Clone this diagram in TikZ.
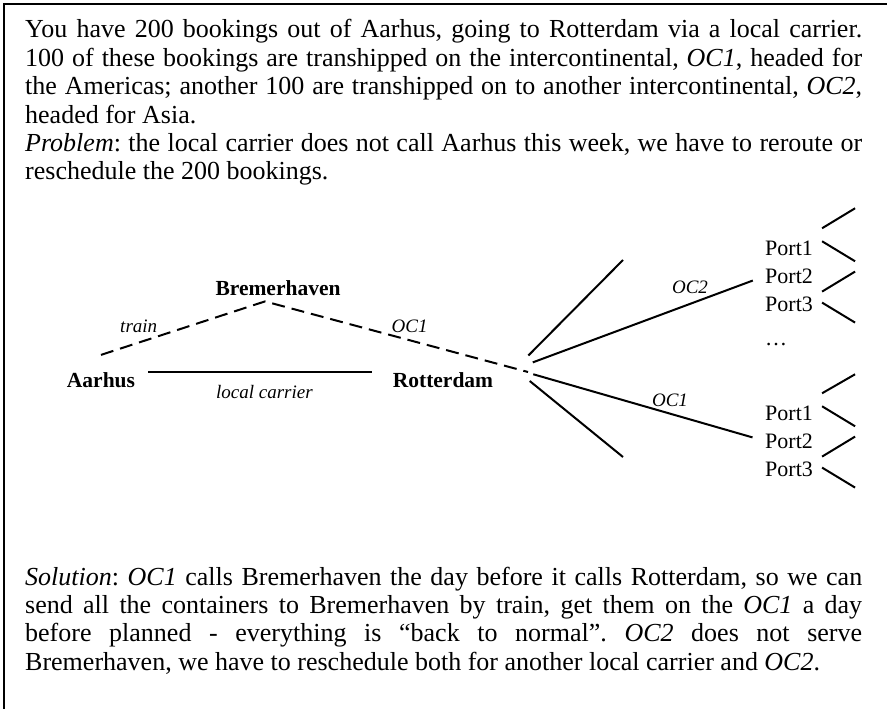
\documentclass[tikz,border=0pt]{standalone}
\usepackage{fontspec}
\setmainfont{Liberation Serif}
\usepackage{tikz}
\usetikzlibrary{positioning}
\frenchspacing
\tikzstyle{para} = [inner sep=0pt, text width=837pt, align=justify, font=\fontsize{26}{28.4}\selectfont]
\tikzstyle{city} = [inner sep=0pt, font=\bfseries\fontsize{21.5}{24}\selectfont]
\tikzstyle{port} = [inner sep=0pt, font=\fontsize{22}{24}\selectfont]
\tikzstyle{lbl} = [inner sep=0pt, font=\itshape\fontsize{19}{21}\selectfont]
\tikzstyle{route} = [draw, line width=2pt]
\tikzstyle{rail} = [draw, line width=2pt, dash pattern=on 13pt off 7pt]
\tikzstyle{twig} = [draw, line width=2pt]

\begin{document}
\begin{tikzpicture}[x=1pt, y=-1pt]
	\useasboundingbox (0,0) rectangle (887,709);
	\draw[line width=1.3pt] (887,4) -- (4,4) -- (4,709);

	% story
	\node[para, anchor=base west] (intro) at (25,38) {You have 200 bookings out of Aarhus, going to Rotterdam via a local carrier.\linebreak
		100 of these bookings are transhipped on the intercontinental, \textit{OC1}, headed for\linebreak
		the Americas; another 100 are transhipped on to another intercontinental, \textit{OC2},\linebreak
		headed for Asia.\par
		\textit{Problem}: the local carrier does not call Aarhus this week, we have to reroute or\linebreak
		reschedule the 200 bookings.};
	\node[para, anchor=base west] (solution) at (25,585) {\textit{Solution}: \textit{OC1} calls Bremerhaven the day before it calls Rotterdam, so we can\linebreak
		send all the containers to Bremerhaven by train, get them on the \textit{OC1} a day\linebreak
		before planned - everything is “back to normal”. \textit{OC2} does not serve\linebreak
		Bremerhaven, we have to reschedule both for another local carrier and \textit{OC2}.};

	% ports
	\node[city, anchor=base] (aarhus) at (101,387) {Aarhus};
	\node[city, anchor=base] (bremen) at (278,295) {Bremerhaven};
	\node[city, anchor=base] (rotterdam) at (443,387) {Rotterdam};
	\coordinate (hub) at (515,369);

	\draw[route, line width=2.4pt] ([xshift=13pt]aarhus.north east) -- node[lbl, below=12pt, pos=0.52] {local carrier} ([xshift=-21pt]rotterdam.north west);
	\draw[rail] ([yshift=17pt]aarhus.north) -- node[lbl, above=9pt, pos=0.23] {train} ([xshift=-13pt, yshift=-6pt]bremen.south)
		-- node[lbl, above=7pt, pos=0.55] {OC1} ([shift={(13pt,-3pt)}]hub);

	% onward legs
	\node[port, anchor=base west] (p1a) at (765,255) {Port1};
	\node[port, below=13pt of p1a] (p2a) {Port2};
	\node[port, below=13pt of p2a] (p3a) {Port3};
	\node[port, anchor=base west] (dots) at (765,345) {\ldots};
	\node[port, anchor=base west] (p1b) at (765,420) {Port1};
	\node[port, below=13pt of p1b] (p2b) {Port2};
	\node[port, below=13pt of p2b] (p3b) {Port3};

	\coordinate (upend) at (623,260);
	\coordinate (downend) at (623,457);
	\draw[route, shorten <=19pt] (hub) -- (upend);
	\draw[route, shorten <=19pt, shorten >=13pt] (hub) -- node[lbl, above=9pt, pos=0.7] {OC2} (p2a.west);
	\draw[route, shorten <=19pt, shorten >=13pt] (hub) -- node[lbl, above=6pt, pos=0.62] {OC1} (p2b.west);
	\draw[route, shorten <=19pt] (hub) -- (downend);

	\draw[twig] ([shift={(9pt,12pt)}]p1a.north east) -- ++(33pt,20pt);
	\draw[twig] ([shift={(9pt,-1pt)}]p1a.north east) -- ++(33pt,-20pt);
	\draw[twig] ([shift={(9pt,-8pt)}]p2a.south east) -- ++(33pt,20pt);
	\draw[twig] ([shift={(9pt,-6pt)}]p3a.north east) -- ++(33pt,-20pt);
	\draw[twig] ([shift={(9pt,12pt)}]p1b.north east) -- ++(33pt,19pt);
	\draw[twig] ([shift={(9pt,-1pt)}]p1b.north east) -- ++(33pt,-20pt);
	\draw[twig] ([shift={(9pt,-8pt)}]p2b.south east) -- ++(33pt,20pt);
	\draw[twig] ([shift={(9pt,-6pt)}]p3b.north east) -- ++(33pt,-20pt);
\end{tikzpicture}
\end{document}
